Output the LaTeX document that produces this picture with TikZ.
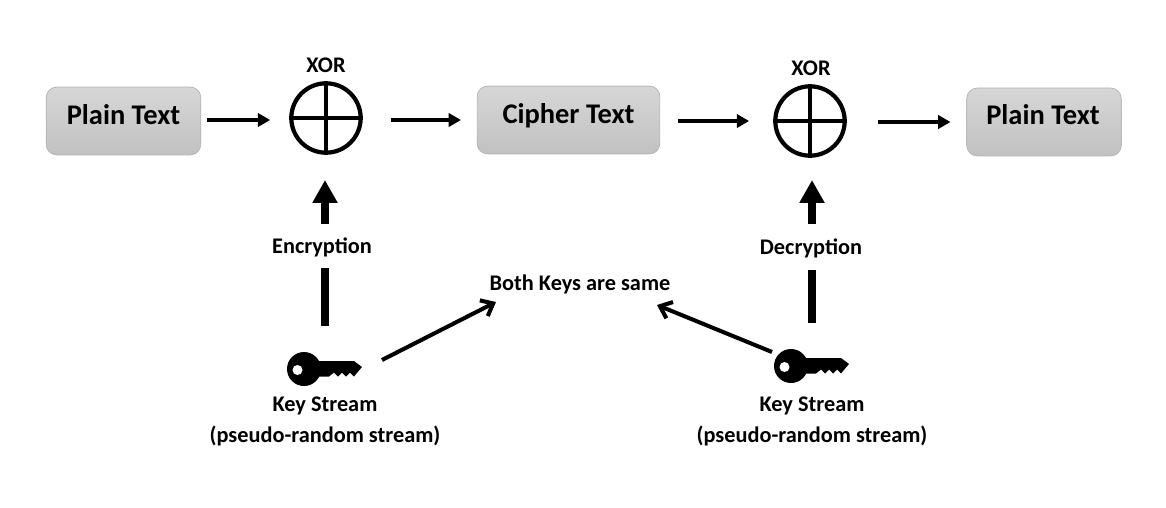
\documentclass[tikz,border=0pt]{standalone}
\usepackage{fontspec}
\setmainfont{Carlito}
\usepackage{xcolor}
\usepackage{tikz}
\usetikzlibrary{arrows.meta,shapes.geometric}
\definecolor{boxtop}{gray}{0.84}
\definecolor{boxbottom}{gray}{0.76}
\definecolor{boxline}{gray}{0.70}
\tikzset{
  textbox/.style={draw=boxline, line width=0.4pt, rounded corners=6pt, top color=boxtop, bottom color=boxbottom, anchor=center, inner sep=0pt},
  boxtext/.style={font=\fontsize{16.2}{19}\selectfont\bfseries, inner sep=0pt},
  xorsign/.style={circle, draw, line width=2.4pt, minimum size=39.5pt, inner sep=0pt},
  caption/.style={font=\fontsize{12.7}{15}\selectfont\bfseries, inner sep=1pt},
  thinflow/.style={line width=2.4pt, -{Triangle[length=7pt,width=7.5pt]}},
  thickflow/.style={line width=4.6pt, -{Triangle[length=13pt,width=13.5pt]}},
  thickbar/.style={line width=4.6pt},
  keyflow/.style={line width=2.3pt, -{Straight Barb[length=6pt,width=10pt,line width=2.3pt]}},
  keysign/.pic={
    \fill[black] (0,0) circle (17);
    \fill[black] (8,-8) -- (50,-8) -- (58,-2) -- (52,5) -- (50,7.5) -- (46,3.5) -- (42,7.5) -- (38,3.5) -- (34,7.5) -- (30,3.5) -- (25,7.5) -- (8,7.5) -- cycle;
    \fill[white] (-6.5,1) circle (5);
  }
}

\begin{document}
\begin{tikzpicture}[x=0.02cm, y=-0.02cm]
  \useasboundingbox (0,0) rectangle (1166,507);
  \node[textbox, minimum width=88pt, minimum height=38.6pt] (plainA) at (123.5,121) {};
  \node[textbox, minimum width=104pt, minimum height=38.6pt] (cipher) at (568.5,120) {};
  \node[textbox, minimum width=88pt, minimum height=38.6pt] (plainB) at (1044,122) {};
  \node[boxtext] (plainAtext) at (123.5,115) {Plain Text};
  \node[boxtext] (ciphertext) at (568.5,116) {Cipher Text};
  \node[boxtext] (plainBtext) at (1043,115) {Plain Text};

  \node[xorsign] (xorA) at (326,118) {};
  \node[xorsign] (xorB) at (810,121) {};
  \draw[line width=2.2pt] (xorA.north) -- (xorA.south);
  \draw[line width=2.2pt] (xorA.west) -- (xorA.east);
  \draw[line width=2.2pt] (xorB.north) -- (xorB.south);
  \draw[line width=2.2pt] (xorB.west) -- (xorB.east);
  \node[caption] (xorAtext) at (326,65) {XOR};
  \node[caption] (xorBtext) at (811,68) {XOR};

  \node[caption] (encrypt) at (322,247) {Encryption};
  \node[caption] (decrypt) at (811,248) {Decryption};
  \node[caption] (same) at (580,284) {Both Keys are same};

  \pic at (304,369) {keysign};
  \pic at (791,366) {keysign};
  \coordinate (keyA) at (325,326);
  \coordinate (keyB) at (812,323);
  \coordinate (keyAside) at (382,360);
  \coordinate (keyBside) at (772,352);
  \node[caption] (streamA) at (325,405.5) {Key Stream};
  \node[caption] (randomA) at (325,436) {(pseudo-random stream)};
  \node[caption] (streamB) at (812,405.5) {Key Stream};
  \node[caption] (randomB) at (812,436) {(pseudo-random stream)};

  \draw[thinflow, shorten <=3.4pt, shorten >=10.8pt] (plainA.east |- 0,120) -- (xorA.west |- 0,120);
  \draw[thinflow, shorten <=16pt, shorten >=9pt] (xorA.east |- 0,120) -- (cipher.west |- 0,120);
  \draw[thinflow, shorten <=10pt, shorten >=13.7pt] (cipher.east |- 0,121) -- (xorB.west |- 0,121);
  \draw[thinflow, shorten <=18pt, shorten >=9pt] (xorB.east |- 0,122) -- (plainB.west |- 0,122);
  \draw[thickflow] (325,224) -- (325,180);
  \draw[thickflow] (812,224) -- (812,180);
  \draw[thickbar] (keyA) -- (325,268);
  \draw[thickbar] (keyB) -- (812,270);
  \draw[keyflow] (keyAside) -- (496,302);
  \draw[keyflow] (keyBside) -- (657,305);
\end{tikzpicture}
\end{document}
